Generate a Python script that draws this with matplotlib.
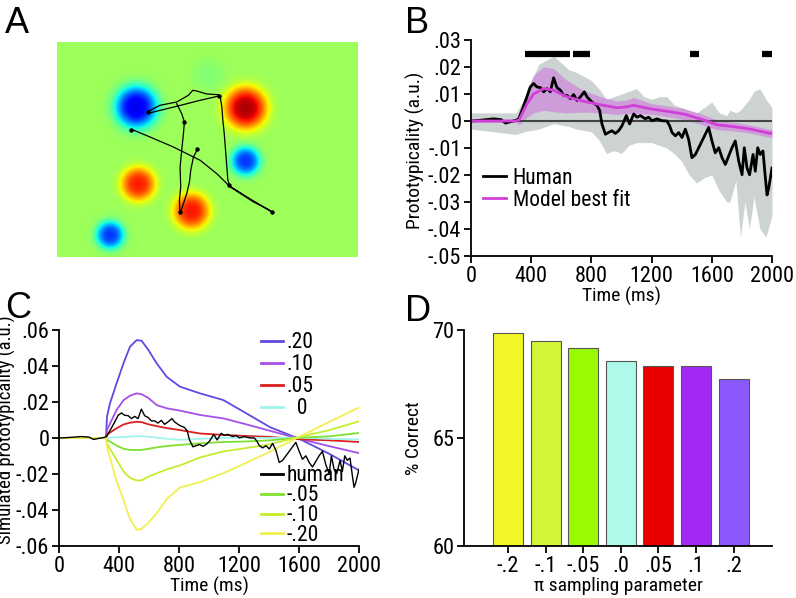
import numpy as np
import matplotlib
matplotlib.use("Agg")
import matplotlib.pyplot as plt
from matplotlib.lines import Line2D

FAMILY = ["Liberation Sans Narrow", "Roboto Condensed", "Archivo Narrow", "Liberation Sans", "DejaVu Sans"]
plt.rcParams["font.family"] = FAMILY
plt.rcParams["font.size"] = 13.5
plt.rcParams["xtick.labelsize"] = 16
plt.rcParams["ytick.labelsize"] = 16
plt.rcParams["legend.fontsize"] = 15.5
plt.rcParams["axes.labelsize"] = 14
plt.rcParams["axes.linewidth"] = 1.3
plt.rcParams["xtick.major.width"] = 1.3
plt.rcParams["ytick.major.width"] = 1.3
plt.rcParams["xtick.major.size"] = 5
plt.rcParams["ytick.major.size"] = 5

# ---- panel A: field blobs (x, y, amplitude, radius) in field pixels, and mouse trajectory
blob_x = [79, 188, 188, 81, 134, 53, 151]
blob_y = [65, 66, 119, 142, 169, 193, 33]
blob_amp = [-1.05, 1.0, -0.85, 0.8, 0.82, -0.85, -0.07]
blob_rad = [21, 21, 14.5, 17, 18, 14, 16]

traj_x = [73.7, 75.3, 92.7, 116, 142.7, 159.3, 171, 189.3, 206, 214.3, 211, 196, 172.7, 170.3,
          169.3, 168, 166.7, 165.3, 164.3, 162.7, 161, 149.3, 139.3, 135.3, 131, 119.3, 102.7,
          91, 92, 119.3, 142.7, 162.7, np.nan,
          119.3, 124.3, 127, 126, 124.3, 122.7, 123.3, 122, 122.7, 124.3, 129.3, 132, 133.3,
          136, 140.3]
traj_y = [89, 87.7, 95, 105, 118.3, 131.7, 143.3, 155, 165, 170, 167.7, 160, 145, 138.3,
          125, 108.3, 91.7, 78.3, 65, 55, 52.7, 52, 49, 48.3, 53.3, 60, 63.3,
          69.3, 71, 64.3, 58.3, 53.7, np.nan,
          61.7, 71.7, 80, 91.7, 108.3, 125, 145, 158.3, 171.7, 166.7, 151.7, 140, 128.3,
          115, 106.7]
dot_x = [74, 214, 127, 140, 171, 91, 161, 123]
dot_y = [88, 170, 80, 107, 143, 70, 54, 170]

# ---- human trajectory (B and C)
human_t = [0, 50, 100, 150, 200, 230, 260, 300, 317, 339, 372, 394, 416, 438, 461, 483, 505,
           527, 549, 571, 594, 616, 638, 660, 682, 704, 726, 753, 771, 804, 837, 855, 870,
           893, 915, 937, 959, 981, 1003, 1032, 1054, 1081, 1103, 1125, 1158, 1180, 1203,
           1236, 1269, 1302, 1320, 1336, 1358, 1380, 1402, 1424, 1446, 1468, 1491, 1513,
           1535, 1557, 1579, 1601, 1623, 1646, 1668, 1690, 1712, 1734, 1756, 1779, 1801,
           1816, 1834, 1851, 1874, 1889, 1905, 1922, 1940, 1956, 1967, 1978, 2000]
human_v = [0, 0.0002, 0.0005, 0.0008, 0.0005, -0.0008, -0.0003, 0.0003, 0.0008, 0.004,
           0.009, 0.0126, 0.0139, 0.0126, 0.0124, 0.0108, 0.012, 0.0108, 0.016, 0.0124,
           0.0114, 0.0095, 0.0095, 0.0083, 0.0098, 0.0076, 0.0089, 0.0108, 0.0089, 0.007,
           0.0058, 0.0039, -0.0011, -0.0049, -0.0042, -0.0036, -0.0046, -0.0036, -0.0018,
           0.002, -0.0011, 0.0026, 0.0014, 0.002, 0.0008, 0.0014, 0.0001, 0.0008, 0.0001,
           0.0, -0.0018, -0.0043, -0.0055, -0.0043, -0.0061, -0.003, -0.0068, -0.0136,
           -0.0124, -0.0099, -0.0074, -0.0049, -0.0024, -0.0074, -0.0118, -0.0099, -0.0136,
           -0.0161, -0.013, -0.0099, -0.0074, -0.0149, -0.0199, -0.0099, -0.0174, -0.0199,
           -0.0124, -0.0186, -0.0099, -0.0124, -0.0111, -0.0211, -0.0274, -0.0249, -0.0174]

band_t = [0, 300, 350, 450, 550, 650, 700, 800, 850, 900, 950, 1000, 1050, 1100, 1150, 1200,
          1250, 1300, 1350, 1400, 1450, 1500, 1550, 1600, 1650, 1700, 1720, 1760, 1790, 1820,
          1850, 1880, 1920, 1960, 2000]
band_hi = [0.003, 0.003, 0.008, 0.021, 0.024, 0.019, 0.018, 0.015, 0.012, 0.008, 0.009, 0.01,
           0.011, 0.012, 0.009, 0.008, 0.009, 0.009, 0.006, 0.005, 0.004, 0.003, 0.005, 0.007,
           0.003, 0.002, 0.004, 0.003, 0.004, 0.006, 0.008, 0.011, 0.012, 0.008, 0.005]
band_lo = [-0.003, -0.005, -0.004, -0.003, -0.001, -0.002, -0.003, -0.004, -0.007, -0.012,
           -0.011, -0.012, -0.009, -0.008, -0.008, -0.008, -0.009, -0.01, -0.012, -0.015,
           -0.02, -0.023, -0.021, -0.02, -0.026, -0.03, -0.03, -0.022, -0.043, -0.03, -0.04,
           -0.028, -0.04, -0.043, -0.035]

model_t = [0, 300, 320, 372, 416, 483, 549, 638, 749, 860, 970, 1030, 1081, 1192, 1302, 1413,
           1524, 1634, 1745, 1856, 1989, 2000]
model_v = [0, 0, 0.0005, 0.0064, 0.01, 0.012, 0.0114, 0.009, 0.0073, 0.006, 0.0049, 0.0052,
           0.0058, 0.0045, 0.0036, 0.0026, 0.0008, -0.0014, -0.0021, -0.003, -0.0046, -0.0045]
model_sd = [0.0005, 0.0005, 0.002, 0.005, 0.007, 0.008, 0.008, 0.006, 0.004, 0.003, 0.0025,
            0.0025, 0.003, 0.002, 0.002, 0.002, 0.002, 0.0018, 0.0016, 0.0015, 0.0015, 0.0015]

sig_start = [361, 676, 1455, 1935]
sig_end = [660, 793, 1515, 2010]

# ---- panel C: simulated prototypicality per sampling parameter
sim_t = [0, 313, 320, 340, 384, 430, 473, 518, 551, 596, 651, 718, 807, 940, 1095, 1230,
         1407, 1600, 1800, 2000]
sim_labels = [".20", ".10", ".05", "  0", "-.05", "-.10", "-.20"]
sim_colors = ["#6048E0", "#A650E8", "#D82020", "#A0F4EC", "#80E030", "#C4EE2C", "#F0F050"]
sim_vals = [
    [0, 0, 0.0119, 0.0193, 0.0304, 0.0415, 0.0507, 0.0544, 0.054, 0.0489, 0.0415, 0.034,
     0.0285, 0.0248, 0.0211, 0.0146, 0.006, -0.0004, -0.0087, -0.018],
    [0, 0, 0.0044, 0.008, 0.0156, 0.021, 0.0235, 0.0248, 0.0243, 0.0222, 0.0183, 0.0165,
     0.0152, 0.0128, 0.0109, 0.008, 0.004, -0.0004, -0.0045, -0.0084],
    [0, 0, 0.0019, 0.003, 0.0054, 0.0075, 0.0085, 0.009, 0.0088, 0.0076, 0.0066, 0.0055,
     0.0044, 0.0025, 0.0017, 0.0012, 0.0006, -0.0007, -0.0013, -0.0022],
    [0, 0, 0, 0.0002, 0.0004, 0.0006, 0.0008, 0.001, 0.001, 0.0007, 0.0002, -0.0004, -0.001,
     -0.0005, 0, 0.0002, 0, 0.0002, -0.0004, -0.0008],
    [0, 0, -0.0011, -0.002, -0.0042, -0.006, -0.0066, -0.0067, -0.0066, -0.006, -0.0052,
     -0.0045, -0.0038, -0.003, -0.0022, -0.002, -0.0013, 0.0002, 0.0009, 0.0028],
    [0, 0, -0.003, -0.006, -0.0122, -0.0185, -0.0222, -0.0236, -0.0235, -0.0215, -0.0196,
     -0.0175, -0.0152, -0.0108, -0.0075, -0.0058, -0.0035, 0.0006, 0.0043, 0.0093],
    [0, 0, -0.0048, -0.011, -0.024, -0.0344, -0.045, -0.051, -0.0505, -0.047, -0.0419,
     -0.034, -0.0275, -0.0245, -0.0196, -0.0145, -0.0076, 0.0006, 0.0089, 0.0169],
]

# ---- panel D: accuracy by sampling parameter
d_labels = ["-.2", "-.1", "-.05", ".0", ".05", ".1", ".2"]
d_values = [69.85, 69.51, 69.18, 68.56, 68.35, 68.32, 67.73]
d_colors = ["#F2F526", "#D2F536", "#9CFA00", "#ADF9EA", "#E80000", "#A428F4", "#8A58FC"]


def short_fmt(v):
    if abs(v) < 1e-9:
        return "0"
    return f"{v:.2f}".replace("0.", ".")


def style_axes(ax):
    ax.spines["top"].set_visible(False)
    ax.spines["right"].set_visible(False)
    ax.tick_params(direction="out", pad=2)


W, H = 796, 598
fig = plt.figure(figsize=(W / 100, H / 100), dpi=100)


def box(x0, y0, x1, y1):
    return [x0 / W, 1 - y1 / H, (x1 - x0) / W, (y1 - y0) / H]


# A
axA = fig.add_axes(box(57, 42, 358, 257))
gx, gy = np.meshgrid(np.arange(300) + 0.5, np.arange(215) + 0.5)
field = np.zeros_like(gx)
for bx, by, amp, rad in zip(blob_x, blob_y, blob_amp, blob_rad):
    r = np.hypot(gx - bx, gy - by) / rad
    field += amp * np.exp(-r ** 3)
axA.imshow(field, cmap="jet", vmin=-0.54 / 0.42, vmax=0.46 / 0.42,
           extent=(0, 300, 215, 0), aspect="auto", interpolation="bilinear")
axA.plot(traj_x, traj_y, color="black", lw=0.9)
axA.plot(dot_x, dot_y, "o", color="black", ms=2.2)
axA.set_xlim(0, 300)
axA.set_ylim(215, 0)
axA.axis("off")

# B
axB = fig.add_axes(box(471, 40, 772, 256))
style_axes(axB)
axB.fill_between(band_t, band_lo, band_hi, color="#CDD2D2", lw=0)
m = np.array(model_v)
sd = np.array(model_sd)
axB.fill_between(model_t, m - sd, m + sd, color="#D070E0", alpha=0.55, lw=0)
axB.axhline(0, color="#444444", lw=1.5)
axB.plot(human_t, human_v, color="black", lw=2, label="Human")
axB.plot(model_t, model_v, color="#D040D8", lw=2, label="Model best fit")
for s, e in zip(sig_start, sig_end):
    axB.plot([s, e], [0.025, 0.025], color="black", lw=4.5, solid_capstyle="butt")
axB.set_xlim(0, 2000)
axB.set_ylim(-0.05, 0.03)
axB.set_xticks([0, 400, 800, 1200, 1600, 2000])
yt = [0.03, 0.02, 0.01, 0, -0.01, -0.02, -0.03, -0.04, -0.05]
axB.set_yticks(yt)
axB.set_yticklabels([short_fmt(v) for v in yt])
axB.set_xlabel("Time (ms)", labelpad=0)
axB.set_ylabel("Prototypicality (a.u.)")
axB.yaxis.set_label_coords(-0.153, 0.49)
axB.legend(loc="lower left", bbox_to_anchor=(0.01, 0.17), frameon=False,
           handlelength=1.1, handletextpad=0.3, labelspacing=0.05, borderaxespad=0)

# C
axC = fig.add_axes(box(59, 330, 359, 546))
style_axes(axC)
for vals, col, lab in zip(sim_vals, sim_colors, sim_labels):
    axC.plot(sim_t, vals, color=col, lw=1.3)
axC.plot(human_t, human_v, color="black", lw=1.0)
axC.set_xlim(0, 2000)
axC.set_ylim(-0.06, 0.06)
axC.set_xticks([0, 400, 800, 1200, 1600, 2000])
yc = [0.06, 0.04, 0.02, 0, -0.02, -0.04, -0.06]
axC.set_yticks(yc)
axC.set_yticklabels([short_fmt(v) for v in yc])
axC.set_xlabel("Time (ms)", labelpad=0)
axC.set_ylabel("Simulated prototypicality (a.u.)", fontsize=13.5)
axC.yaxis.set_label_coords(-0.143, 0.54)
hdl_top = [Line2D([], [], color=c, lw=2) for c in sim_colors[:4]]
hdl_bot = [Line2D([], [], color="black", lw=2)] + [Line2D([], [], color=c, lw=2) for c in sim_colors[4:]]
leg1 = axC.legend(hdl_top, sim_labels[:4], loc="upper left", bbox_to_anchor=(0.645, 1.03),
                  frameon=False, handlelength=1.0, handletextpad=0.2, labelspacing=0.05,
                  borderaxespad=0)
axC.add_artist(leg1)
axC.legend(hdl_bot, ["human"] + sim_labels[4:], loc="lower left", bbox_to_anchor=(0.645, -0.04),
           frameon=False, handlelength=1.0, handletextpad=0.2, labelspacing=-0.05,
           borderaxespad=0)

# D
axD = fig.add_axes(box(464, 330, 772, 546))
style_axes(axD)
xpos = np.arange(len(d_values))
axD.bar(xpos, d_values, width=0.8, color=d_colors, edgecolor="#555555", lw=0.8)
axD.set_xlim(-1.17, 7.02)
axD.set_ylim(60, 70)
axD.set_yticks([60, 65, 70])
axD.set_xticks(xpos)
axD.set_xticklabels(d_labels)
axD.set_ylabel("% Correct")
axD.yaxis.set_label_coords(-0.133, 0.5)
axD.set_xlabel("π sampling parameter", labelpad=0)

# panel letters
for lab, px, py in [("A", 5, 6), ("B", 405, 6), ("C", 5, 291), ("D", 405, 294)]:
    fig.text(px / W, 1 - py / H, lab, fontsize=26, va="top", ha="left",
             family=["Liberation Sans", "DejaVu Sans"])

fig.savefig("out.png", dpi=100)
